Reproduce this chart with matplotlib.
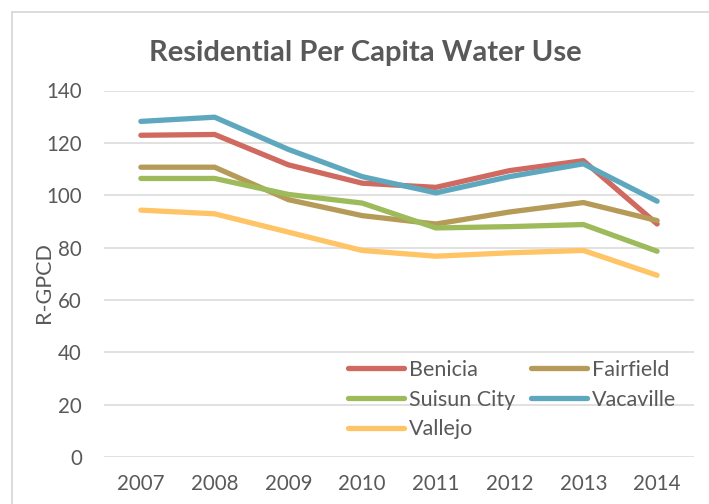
import matplotlib
matplotlib.use("Agg")
import matplotlib.pyplot as plt
from matplotlib.lines import Line2D

years = ["2007", "2008", "2009", "2010", "2011", "2012", "2013", "2014"]
benicia = [122.9, 123.2, 111.6, 104.6, 103.0, 109.4, 113.2, 89.0]
fairfield = [110.7, 110.7, 98.3, 92.2, 89.0, 93.6, 97.2, 90.3]
suisun_city = [106.4, 106.4, 100.3, 97.0, 87.5, 88.0, 88.8, 78.6]
vacaville = [128.2, 129.8, 117.5, 107.1, 100.9, 107.1, 112.0, 97.7]
vallejo = [94.3, 92.9, 85.9, 78.9, 76.7, 78.0, 78.9, 69.4]

series_names = ["Benicia", "Fairfield", "Suisun City", "Vacaville", "Vallejo"]
series_values = [benicia, fairfield, suisun_city, vacaville, vallejo]
colors = ["#D0695F", "#B59B57", "#9DBB5A", "#5EA8BF", "#FFC466"]

plt.rcParams['font.family'] = ['Lato', 'DejaVu Sans']
txt = "#595959"

fig = plt.figure(figsize=(7.09, 5.04), dpi=100)
ax = fig.add_axes([104/709, 47/504, 590/709, 366.5/504])

x = list(range(len(years)))
handles = []
for name, vals, c in zip(series_names, series_values, colors):
    h, = ax.plot(x, vals, color=c, lw=3.8, solid_capstyle='round',
                 solid_joinstyle='round', label=name)
    handles.append(h)

ax.set_xlim(-0.5, len(years) - 0.5)
ax.set_ylim(0, 140)
ax.set_yticks(range(0, 141, 20))
ax.set_xticks(x)
ax.set_xticklabels(years)
ax.grid(axis='y', color='#D9D9D9', lw=1.1)
ax.set_axisbelow(True)
for s in ax.spines.values():
    s.set_visible(False)
ax.tick_params(axis='both', length=0, labelsize=14.8, colors=txt)
ax.tick_params(axis='x', pad=12)
ax.tick_params(axis='y', pad=16)
ax.set_ylabel("R-GPCD", fontsize=15.5, color=txt, labelpad=0)
ax.yaxis.set_label_coords(-50/590, 0.475)

fig.text(365/709, 1 - 53/504, "Residential Per Capita Water Use", ha='center',
         va='center', fontsize=21, fontweight='bold', color=txt)

order = [0, 2, 4, 1, 3]
leg = ax.legend([handles[i] for i in order], [series_names[i] for i in order],
                ncol=2, frameon=False, fontsize=15.5, labelcolor=txt,
                loc='upper left', bbox_to_anchor=(348/709, 1 - 360/504),
                bbox_transform=fig.transFigure, handlelength=2.6,
                handletextpad=0.25, columnspacing=0.7, labelspacing=0.45,
                borderaxespad=0, borderpad=0)

# outer chart border (left and top edges visible)
fig.add_artist(Line2D([12/709, 12/709], [0, 1 - 12/504], color='#D9D9D9', lw=1.3,
                      transform=fig.transFigure))
fig.add_artist(Line2D([12/709, 1], [1 - 12/504, 1 - 12/504], color='#D9D9D9', lw=1.3,
                      transform=fig.transFigure))

fig.savefig("out.png", dpi=100)
